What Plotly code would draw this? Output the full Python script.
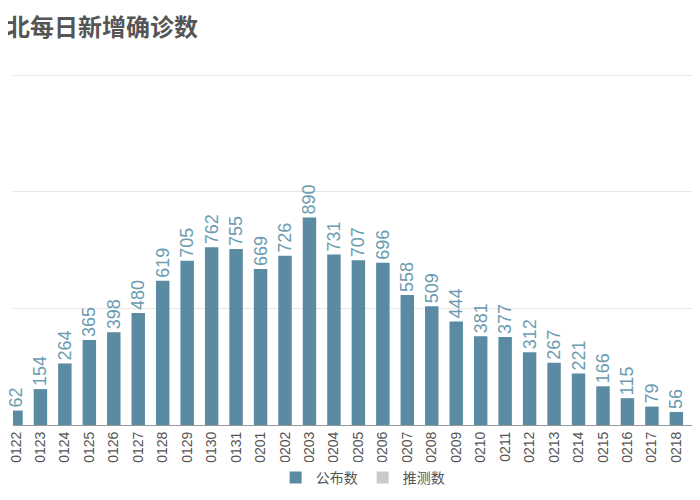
import plotly.graph_objects as go

# Daily new confirmed cases (reference chart is cropped at both sides)
dates = ["0122", "0123", "0124", "0125", "0126", "0127", "0128", "0129", "0130",
         "0131", "0201", "0202", "0203", "0204", "0205", "0206", "0207", "0208",
         "0209", "0210", "0211", "0212", "0213", "0214", "0215", "0216", "0217",
         "0218", "0219"]
published = [62, 154, 264, 365, 398, 480, 619, 705, 762, 755, 669, 726, 890, 731,
             707, 696, 558, 509, 444, 381, 377, 312, 267, 221, 166, 115, 79, 56, 45]
estimated = [None] * len(dates)  # no estimated values fall in the visible window

bar_color = "#5a8ba2"
label_color = "#6b9bb1"
grey = "#c9c9c9"

fig = go.Figure()

fig.add_trace(go.Bar(
    x=dates, y=published, name="公布数",
    marker=dict(color=bar_color, line=dict(width=0)),
    text=published, textposition="outside", textangle=-90,
    constraintext="none",
    textfont=dict(color=label_color, size=18, family="Liberation Sans"),
    cliponaxis=False,
))

fig.add_trace(go.Bar(
    x=dates, y=estimated, name="推测数",
    marker=dict(color=grey, line=dict(width=0)),
))

# title as annotation so it can sit flush with the left edge
fig.add_annotation(
    text="<b>北每日新增确诊数</b>",
    xref="paper", yref="paper", x=-0.013, y=1.135,
    xanchor="left", yanchor="middle", showarrow=False,
    font=dict(family="Noto Sans CJK SC", size=24, color="#555555"),
)

fig.update_layout(
    width=700, height=500,
    barmode="overlay",
    bargap=0.45,
    paper_bgcolor="white",
    plot_bgcolor="white",
    margin=dict(l=0, r=0, t=65, b=83),
    legend=dict(
        orientation="h", x=0.506, xanchor="center", y=-0.15, yanchor="middle",
        font=dict(family="Noto Sans CJK SC", size=14, color="#555555"),
    ),
    showlegend=True,
)

fig.update_xaxes(
    type="category",
    range=[-0.121, 28.13],
    tickangle=-90,
    tickfont=dict(family="Liberation Sans", size=14, color="#555555"),
    showline=True, linecolor="#999999", linewidth=1,
    ticks="", showgrid=False,
)

fig.update_yaxes(
    range=[0, 1510],
    tickvals=[500, 1000, 1500],
    showticklabels=False,
    showgrid=True, gridcolor="#e6e6e6", gridwidth=1,
    zeroline=False,
)

fig.write_html("out.html")
